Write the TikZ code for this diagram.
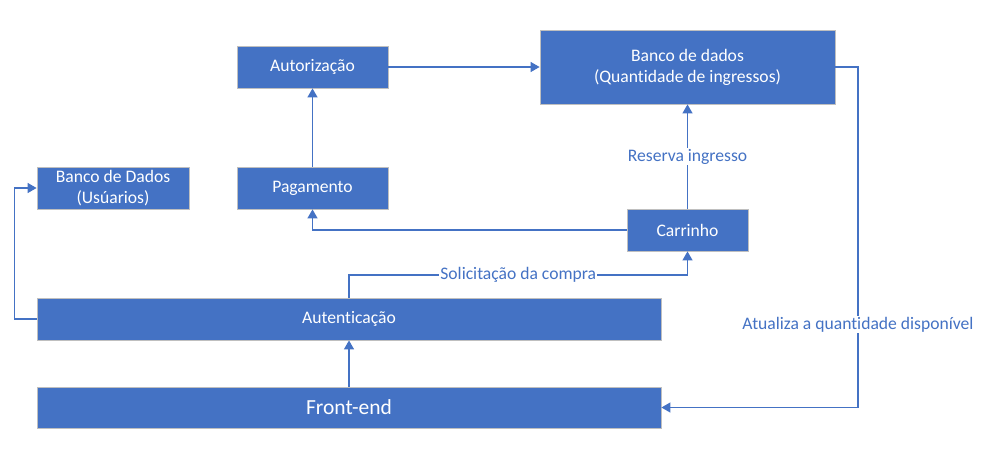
\documentclass[tikz,border=0pt]{standalone}
\usepackage{fontspec}
\setmainfont{Carlito}[Ligatures=NoCommon]
\usetikzlibrary{arrows.meta}
\definecolor{officeblue}{HTML}{4472C4}
\definecolor{boxline}{HTML}{BFBFBF}

\begin{document}
\begin{tikzpicture}[x=1pt, y=-1pt,
    every node/.style={font=\fontsize{17.6}{21}\selectfont},
    box/.style={draw=boxline, line width=0.8pt, fill=officeblue, text=white, align=center, minimum height=42pt, inner sep=0pt},
    conn/.style={draw=officeblue, line width=1.3pt, -{Triangle[length=9pt, width=10pt]}},
    lbl/.style={fill=white, text=officeblue, inner sep=1pt}]
    \useasboundingbox (0,0) rectangle (984,456);

    % Top row
    \node[box, minimum width=151pt] (autorizacao) at (312.5,67) {Autorização};
    \node[box, minimum width=295pt, minimum height=74pt] (bdingressos) at (687.5,67) {Banco de dados\\(Quantidade de ingressos)};

    % Middle row
    \node[box, minimum width=152pt] (bdusuarios) at (113,188) {Banco de Dados\\(Usúarios)};
    \node[box, minimum width=151pt] (pagamento) at (312.5,188) {Pagamento};
    \node[box, minimum width=121pt] (carrinho) at (687.5,230) {Carrinho};

    % Bottom bars
    \node[box, minimum width=624pt] (autenticacao) at (349,319) {Autenticação};
    \node[box, minimum width=624pt, minimum height=41pt, font=\fontsize{21.5}{25}\selectfont] (frontend) at (349,407.5) {Front-end};

    % Turning points
    \coordinate (solic) at (autenticacao.north |- 0,275);
    \coordinate (atualiza) at (858,67);

    % Arrows
    \draw[conn] (frontend) -- (autenticacao);
    \draw[conn] (autenticacao.north) -- (solic) -| node[lbl, pos=0.25] {Solicitação da compra} (carrinho.south);
    \draw[conn] (carrinho.west) -| (pagamento.south);
    \draw[conn] (pagamento) -- (autorizacao);
    \draw[conn] (autorizacao) -- (bdingressos);
    \draw[conn] (carrinho) -- node[lbl] {Reserva ingresso} (bdingressos);
    \draw[conn] (bdingressos.east) -- (atualiza) |- node[lbl, pos=0.378] {Atualiza a quantidade disponível} (frontend.east);
    \draw[conn] (autenticacao.west) -- ++(-22,0) |- (bdusuarios.west);
\end{tikzpicture}
\end{document}
